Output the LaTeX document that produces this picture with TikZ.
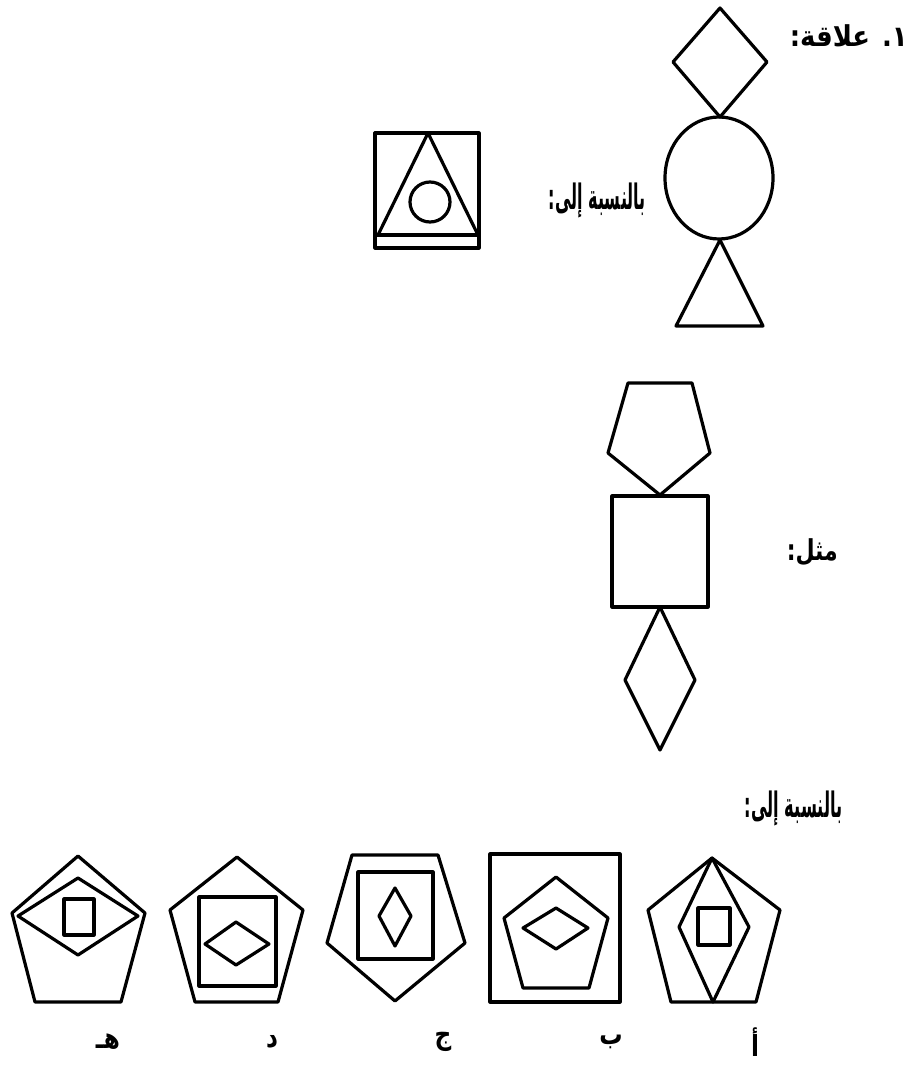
\documentclass[tikz,border=0pt]{standalone}
\usepackage{fontspec}
\usepackage{graphicx}
\newfontfamily\arabicfont[Script=Arabic]{DejaVu Sans}
\newfontfamily\arabiclbl[Script=Arabic,FakeStretch=0.8]{DejaVu Sans}
\TeXXeTstate=1
\begin{document}
\begin{tikzpicture}[x=1pt,y=-1pt,
  shp/.style={line width=3.2pt,line join=round},
  ar/.style={font=\arabicfont\bfseries\fontsize{25}{28}\selectfont, inner sep=0pt},
  lbl/.style={font=\arabiclbl\bfseries\fontsize{29}{32}\selectfont, inner sep=0pt}]
\useasboundingbox[fill=white] (0,0) rectangle (919,1065);

% ---- texts
\node[ar, anchor=east] (q1) at (908,36) {\resizebox{118pt}{1.15\height}{\beginR ١. علاقة:\endR}};
\node[ar, anchor=east] (rel1) at (646,200) {\resizebox{97pt}{1.4\height}{\beginR بالنسبة إلى:\endR}};
\node[ar, anchor=east] (ex) at (838,552) {\resizebox{51pt}{1.15\height}{\beginR مثل:\endR}};
\node[ar, anchor=east] (rel2) at (843,808) {\resizebox{98pt}{1.4\height}{\beginR بالنسبة إلى:\endR}};

% ---- top figure
\draw[shp] (720,8)--(767,62)--(720,117)--(673,62)--cycle;
\draw[shp] (719,178) ellipse [x radius=54pt, y radius=61pt];
\draw[shp] (720,240)--(763,326)--(676,326)--cycle;

% ---- boxed figure
\draw[shp] (375,133) rectangle (479,248);
\draw[shp] (375,235)--(479,235);
\draw[shp] (428,133)--(478,235)--(378,235)--cycle;
\draw[shp] (430,202) circle [radius=20pt];

% ---- example figure
\draw[shp] (628,383)--(692,383)--(710,453)--(660,495)--(608,453)--cycle;
\draw[shp] (612,496) rectangle (708,607);
\draw[shp] (660,607)--(695,680)--(660,750)--(625,680)--cycle;

% ---- option he
\draw[shp] (78,856)--(145,913)--(121,1002)--(35,1002)--(12,913)--cycle;
\draw[shp] (78,878)--(138,916)--(78,955)--(18,916)--cycle;
\draw[shp] (64,899) rectangle (94,935);

% ---- option dal
\draw[shp] (237,857)--(303,910)--(278,1002)--(195,1002)--(170,910)--cycle;
\draw[shp] (199,897) rectangle (276,986);
\draw[shp] (236,922)--(269,944)--(236,965)--(205,944)--cycle;

% ---- option jim
\draw[shp] (352,855)--(438,855)--(465,943)--(395,1001)--(327,943)--cycle;
\draw[shp] (358,872) rectangle (433,959);
\draw[shp] (395,888)--(411,916)--(395,946)--(379,916)--cycle;

% ---- option ba
\draw[shp] (490,854) rectangle (620,1002);
\draw[shp] (556,877)--(608,918)--(589,988)--(523,988)--(504,918)--cycle;
\draw[shp] (556,908)--(588,928)--(556,949)--(523,928)--cycle;

% ---- option alif
\draw[shp] (712,858)--(780,910)--(756,1002)--(671,1002)--(648,910)--cycle;
\draw[shp] (712,858)--(749,927)--(713,1002)--(679,927)--cycle;
\draw[shp] (698,908) rectangle (730,945);

% ---- option labels
\node[lbl] (lhe) at (108,1042) {\beginR هـ\endR};
\node[lbl] (ldal) at (272,1042) {\beginR د\endR};
\node[lbl] (ljim) at (443,1042) {\beginR ج\endR};
\node[lbl] (lba) at (611,1042) {\beginR ب\endR};
\node[lbl] (lalif) at (755,1042) {\beginR أ\endR};
\end{tikzpicture}
\end{document}
